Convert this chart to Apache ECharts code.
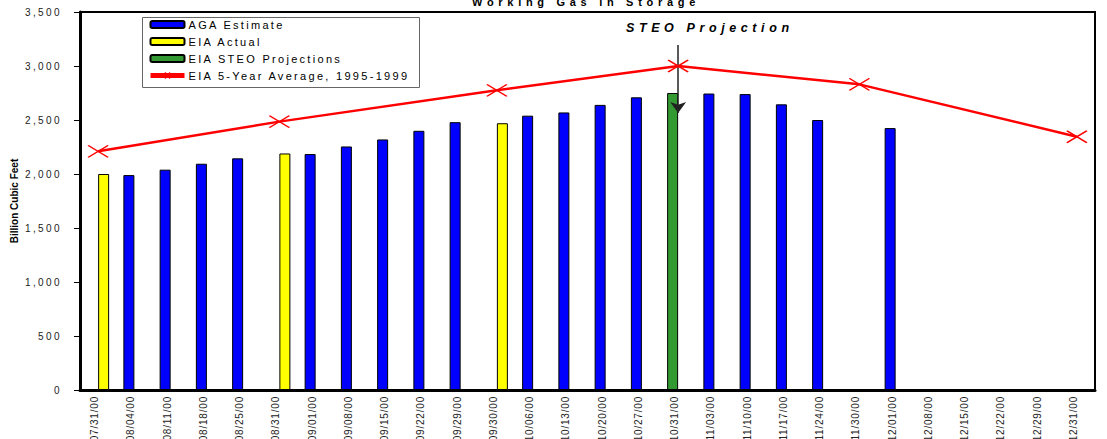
<!DOCTYPE html>
<html>
<head>
<meta charset="utf-8">
<script src="https://cdn.jsdelivr.net/npm/echarts@6/dist/echarts.min.js"></script>
<style>
  html, body { margin: 0; padding: 0; background: #fff; }
  #chart { width: 1107px; height: 439px; }
</style>
</head>
<body>
<div id="chart"></div>
<script>
var titleText = "Working Gas in Storage";
var noteText = "STEO Projection";
var categories = [
    "07/31/00", "08/04/00", "08/11/00", "08/18/00", "08/25/00", "08/31/00", "09/01/00",
    "09/08/00", "09/15/00", "09/22/00", "09/29/00", "09/30/00", "10/06/00", "10/13/00",
    "10/20/00", "10/27/00", "10/31/00", "11/03/00", "11/10/00", "11/17/00", "11/24/00",
    "11/30/00", "12/01/00", "12/08/00", "12/15/00", "12/22/00", "12/29/00", "12/31/00"
];
var seriesNames = ["AGA Estimate", "EIA Actual", "EIA STEO Projections", "EIA 5-Year Average, 1995-1999"];
// AGA weekly estimates (blue)
var agaEstimate = [null, 1990, 2040, 2095, 2145, null, 2185, 2255, 2320, 2400, 2480, null, 2540, 2570,
    2640, 2710, null, 2745, 2740, 2645, 2500, null, 2425, null, null, null, null, null];
// EIA month-end actuals (yellow)
var eiaActual = [2000, null, null, null, null, 2190, null, null, null, null, null, 2470, null, null,
    null, null, null, null, null, null, null, null, null, null, null, null, null, null];
// STEO projection (green)
var steoProj = [null, null, null, null, null, null, null, null, null, null, null, null, null, null,
    null, null, 2750, null, null, null, null, null, null, null, null, null, null, null];
// 5-year average (red line)
var fiveYearAvg = [2210, null, null, null, null, 2485, null, null, null, null, null, 2775, null, null,
    null, null, 3000, null, null, null, null, 2830, null, null, null, null, null, 2345];
var yTicks = [0, 500, 1000, 1500, 2000, 2500, 3000, 3500];

var font = "Liberation Sans, Arial, sans-serif";
var myChart = echarts.init(document.getElementById("chart"), null, { renderer: "svg" });

var option = {
    animation: false,
    backgroundColor: "#fff",
    title: {
        text: titleText,
        left: 581,
        textAlign: "center",
        top: -9,
        textStyle: { fontFamily: font, fontSize: 11, fontWeight: "bold", color: "#000" }
    },
    legend: {
        orient: "vertical",
        left: 148,
        top: 18,
        padding: 0,
        itemGap: 4,
        itemWidth: 34,
        itemHeight: 7,
        data: [
            { name: seriesNames[0], itemStyle: { borderWidth: 2 } },
            { name: seriesNames[1], itemStyle: { borderWidth: 2 } },
            { name: seriesNames[2], itemStyle: { borderWidth: 2 } },
            { name: seriesNames[3], lineStyle: { width: 5 } }
        ],
        textStyle: { fontFamily: font, fontSize: 11, color: "#000", lineHeight: 13, padding: [0, 0, 0, -1] }
    },
    grid: {
        left: 80, right: 12, top: 12, bottom: 49,
        show: true, borderColor: "#000", borderWidth: 2
    },
    xAxis: {
        type: "category",
        data: categories,
        axisLine: { lineStyle: { color: "#000", width: 3 } },
        axisTick: { length: 5, lineStyle: { color: "#000", width: 1 } },
        axisLabel: {
            rotate: 90, margin: 6, interval: 0, fontFamily: font, fontSize: 10, color: "#222",
            verticalAlign: "bottom", lineHeight: 7
        }
    },
    yAxis: {
        type: "value",
        min: 0,
        max: 3500,
        interval: 500,
        name: "Billion Cubic Feet",
        nameLocation: "middle",
        nameGap: 61,
        nameTextStyle: { fontFamily: font, fontSize: 10, fontWeight: "bold", color: "#000" },
        splitLine: { show: false },
        axisLine: { show: true, lineStyle: { color: "#000", width: 3 } },
        axisTick: { show: true, length: 6, lineStyle: { color: "#000", width: 1 } },
        axisLabel: {
            margin: 18, fontFamily: font, fontSize: 10, color: "#222",
            formatter: function (v) { return v.toLocaleString("en-US"); }
        }
    },
    graphic: [
        {
            type: "rect",
            left: 140, top: 15,
            shape: { width: 277, height: 70 },
            style: { fill: "none", stroke: "#666", lineWidth: 1 },
            z: 0
        },
        {
            type: "text",
            left: 626, top: 21,
            style: { text: noteText, fontFamily: font, fontSize: 12.5, fontWeight: "bold", fontStyle: "italic", fill: "#000" }
        }
    ],
    series: [
        {
            name: seriesNames[0],
            type: "bar",
            stack: "est",
            barWidth: 11,
            barGap: "0%",
            data: agaEstimate,
            itemStyle: { color: "#0000ff", borderColor: "#000", borderWidth: 1 }
        },
        {
            name: seriesNames[1],
            type: "bar",
            barWidth: 11,
            barGap: "0%",
            data: eiaActual,
            itemStyle: { color: "#ffff00", borderColor: "#000", borderWidth: 1 }
        },
        {
            name: seriesNames[2],
            type: "bar",
            stack: "est",
            barWidth: 11,
            barGap: "0%",
            data: steoProj,
            itemStyle: { color: "#339933", borderColor: "#000", borderWidth: 1 }
        },
        {
            name: seriesNames[3],
            type: "line",
            data: fiveYearAvg,
            connectNulls: true,
            z: 5,
            symbol: "path://M0,0L20,12M20,0L0,12",
            symbolSize: [20, 12],
            itemStyle: { color: "#ff0000", borderColor: "#ff0000", borderWidth: 1.5 },
            lineStyle: { color: "#ff0000", width: 2.5 },
            markLine: {
                silent: true,
                symbol: ["none", "arrow"],
                symbolSize: [12, 11],
                label: { show: false },
                lineStyle: { color: "#222", width: 1.5, type: "solid" },
                data: [[
                    { xAxis: categories[16], yAxis: 3195 },
                    { xAxis: categories[16], yAxis: 2565 }
                ]]
            }
        }
    ]
};
myChart.setOption(option);

// wide character spacing like the original
function spaceText() {
    var texts = document.querySelectorAll("#chart text");
    texts.forEach(function (t) {
        var s = t.textContent;
        var ls = 0;
        if (s === titleText) ls = 4.7;
        else if (s === noteText) ls = 4.6;
        else if (seriesNames.indexOf(s) >= 0) ls = 2.3;
        else if (/^[\d,]+$/.test(s)) ls = 2.4;
        else if (categories.indexOf(s) >= 0) ls = 0.8;
        if (ls) t.setAttribute("letter-spacing", ls);
    });
}
spaceText();
myChart.on("finished", spaceText);
setTimeout(spaceText, 50);
</script>
</body>
</html>
